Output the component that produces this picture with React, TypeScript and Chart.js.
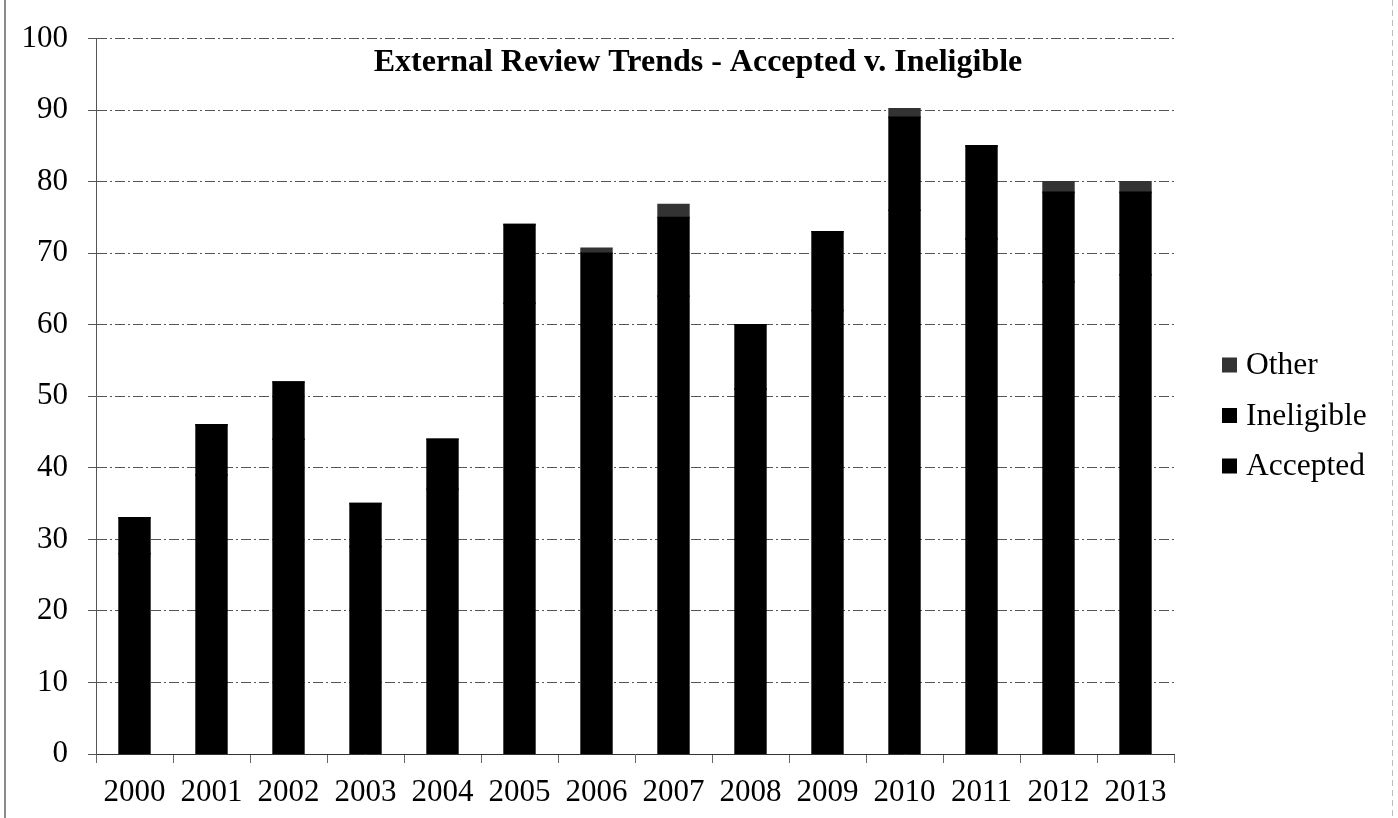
import React, { useEffect, useRef } from "react";
import { Chart, registerables } from "chart.js";

Chart.register(...registerables);

const years = ["2000", "2001", "2002", "2003", "2004", "2005", "2006", "2007", "2008", "2009", "2010", "2011", "2012", "2013"];
const accepted = [28, 39, 44, 29, 37, 63, 60, 64, 51, 62, 76, 72, 66, 67];
const ineligible = [5, 7, 8, 6, 7, 11, 10, 11, 9, 11, 13, 13, 12.5, 11.5];
const other = [0, 0, 0, 0, 0, 0, 0.7, 1.8, 0, 0, 1.2, 0, 1.5, 1.5];
const yTicks = [0, 10, 20, 30, 40, 50, 60, 70, 80, 90, 100];

const titleText = "External Review Trends - Accepted v. Ineligible";
const FONT = "'Liberation Serif', 'Times New Roman', serif";

const seriesNames = ["Accepted", "Ineligible", "Other"];
const seriesColors = ["#000000", "#000000", "#333333"];

const decorPlugin = {
  id: "decor",
  afterDraw(chart: any) {
    const ctx = chart.ctx;
    ctx.save();
    // title
    ctx.fillStyle = "#000";
    ctx.font = `bold 32px ${FONT}`;
    ctx.textAlign = "center";
    ctx.textBaseline = "middle";
    ctx.fillText(titleText, 698, 63);
    // legend (reversed order)
    ctx.font = `31.5px ${FONT}`;
    ctx.textAlign = "left";
    const ys = [365, 415.5, 466];
    const order = [2, 1, 0];
    order.forEach((si, i) => {
      ctx.fillStyle = seriesColors[si];
      ctx.fillRect(1222, ys[i] - 7.5, 15, 15);
      ctx.fillStyle = "#000";
      ctx.fillText(seriesNames[si], 1246, ys[i] + 1);
    });
    // outer frame
    ctx.strokeStyle = "#8a8a8a";
    ctx.lineWidth = 2;
    ctx.beginPath();
    ctx.moveTo(5, 0);
    ctx.lineTo(5, 818);
    ctx.stroke();
    ctx.strokeStyle = "#bdbdbd";
    ctx.lineWidth = 1;
    ctx.setLineDash([6, 4]);
    ctx.beginPath();
    ctx.moveTo(1392.5, 0);
    ctx.lineTo(1392.5, 818);
    ctx.stroke();
    ctx.restore();
  },
};

export default function App() {
  const ref = useRef<HTMLCanvasElement | null>(null);
  useEffect(() => {
    document.body.style.margin = "0";
    const chart = new Chart(ref.current as HTMLCanvasElement, {
      type: "bar",
      data: {
        labels: years,
        datasets: [
          { label: seriesNames[0], data: accepted, backgroundColor: seriesColors[0] },
          { label: seriesNames[1], data: ineligible, backgroundColor: seriesColors[1] },
          { label: seriesNames[2], data: other, backgroundColor: seriesColors[2] },
        ],
      },
      options: {
        responsive: false,
        animation: false,
        events: [],
        layout: { padding: { left: 0, right: 224, top: 37, bottom: 10 } },
        datasets: { bar: { categoryPercentage: 1, barPercentage: 0.4, borderWidth: 0, inflateAmount: 0.8 } },
        plugins: { legend: { display: false }, title: { display: false }, tooltip: { enabled: false } },
        scales: {
          x: {
            stacked: true,
            afterFit: (s: any) => { s.height = 54; },
            grid: { display: true, drawOnChartArea: false, drawTicks: true, tickLength: 9, color: "#666", offset: true },
            border: { display: true, color: "#333", width: 1 },
            ticks: { color: "#000", font: { family: FONT, size: 31 }, padding: 11, maxRotation: 0, autoSkip: false },
          },
          y: {
            stacked: true,
            min: 0,
            max: 100,
            afterFit: (s: any) => { s.width = 96; },
            afterBuildTicks: (s: any) => { s.ticks = yTicks.map((v) => ({ value: v })); },
            grid: { color: "#555", lineWidth: 1, drawTicks: true, tickLength: 8 },
            border: { display: true, color: "#555", width: 1, dash: [10, 3, 2, 3] },
            ticks: { color: "#000", font: { family: FONT, size: 31 }, padding: 20 },
          },
        },
      },
      plugins: [decorPlugin],
    } as any);
    return () => chart.destroy();
  }, []);
  return (
    <div style={{ position: "absolute", left: 0, top: 0, width: 1398, height: 818, background: "#fff" }}>
      <canvas ref={ref} width={1398} height={818} style={{ display: "block" }} />
    </div>
  );
}
